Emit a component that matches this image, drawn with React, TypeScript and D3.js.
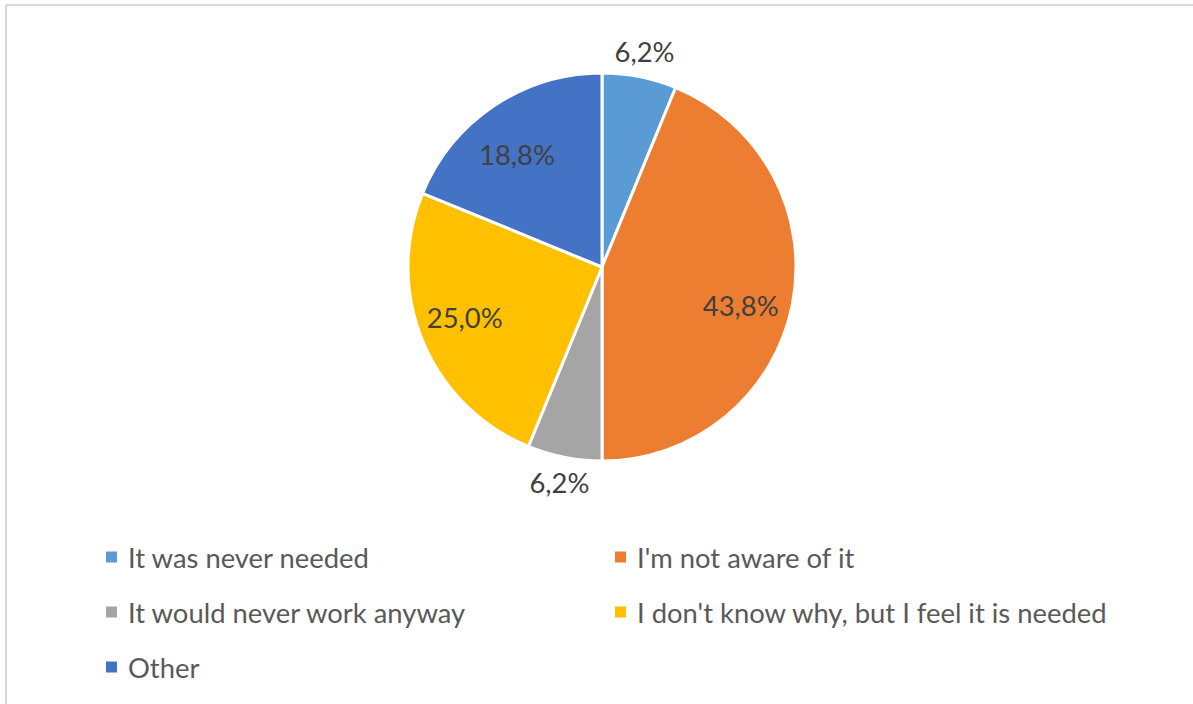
import React from "react";
import * as d3 from "d3";

const categories = [
  "It was never needed",
  "I'm not aware of it",
  "It would never work anyway",
  "I don't know why, but I feel it is needed",
  "Other",
];
const values = [6.2, 43.8, 6.2, 25.0, 18.8];
const labels = ["6,2%", "43,8%", "6,2%", "25,0%", "18,8%"];
const colors = ["#5B9BD5", "#ED7D31", "#A5A5A5", "#FFC000", "#4472C4"];
const outside = [true, false, true, false, false];
// small label placement adjustments (Excel best-fit style)
const labelNudge: [number, number][] = [[0, 0], [-4, 10], [0, 0], [-3, -6], [-4, 8]];

const W = 1193;
const H = 704;
const cx = 602;
const cy = 267;
const R = 194;
const FONT = "Lato, 'Open Sans', sans-serif";
const FS = 27.4;

export default function App() {
  const pie = d3.pie<number>().sort(null).value((d) => d)(values);
  const arc = d3.arc<d3.PieArcDatum<number>>().innerRadius(0).outerRadius(R);
  const inLabel = d3.arc<d3.PieArcDatum<number>>().innerRadius(R * 0.75).outerRadius(R * 0.75);
  const outLabel = d3.arc<d3.PieArcDatum<number>>().innerRadius(R + 26).outerRadius(R + 26);

  const legendX = [106, 615];
  const legendY = [557, 612, 667];

  return (
    <svg
      width={W}
      height={H}
      style={{ position: "absolute", left: 0, top: 0, background: "#fff" }}
    >
      <rect x={0} y={0} width={W} height={H} fill="#fff" />
      <line x1={6} y1={5} x2={W} y2={5} stroke="#d9d9d9" strokeWidth={2} />
      <line x1={6} y1={5} x2={6} y2={H} stroke="#d9d9d9" strokeWidth={2} />
      <g transform={`translate(${cx},${cy})`}>
        {pie.map((p, i) => (
          <path key={i} d={arc(p) || ""} fill={colors[i]} stroke="#fff" strokeWidth={3} strokeLinejoin="round" />
        ))}
        {pie.map((p, i) => {
          const [x, y] = outside[i] ? outLabel.centroid(p) : inLabel.centroid(p);
          return (
            <text
              key={"l" + i}
              x={x + labelNudge[i][0]}
              y={y + labelNudge[i][1]}
              textAnchor="middle"
              dominantBaseline="central"
              fontFamily={FONT}
              fontSize={FS}
              fill="#404040"
            >
              {labels[i]}
            </text>
          );
        })}
      </g>
      {categories.map((c, i) => {
        const col = i % 2;
        const row = Math.floor(i / 2);
        const x = legendX[col];
        const y = legendY[row];
        return (
          <g key={"g" + i}>
            <rect x={x} y={y - 5.5} width={11} height={11} fill={colors[i]} />
            <text
              x={x + 22}
              y={y}
              dominantBaseline="central"
              fontFamily={FONT}
              fontSize={FS}
              fill="#595959"
            >
              {c}
            </text>
          </g>
        );
      })}
    </svg>
  );
}
